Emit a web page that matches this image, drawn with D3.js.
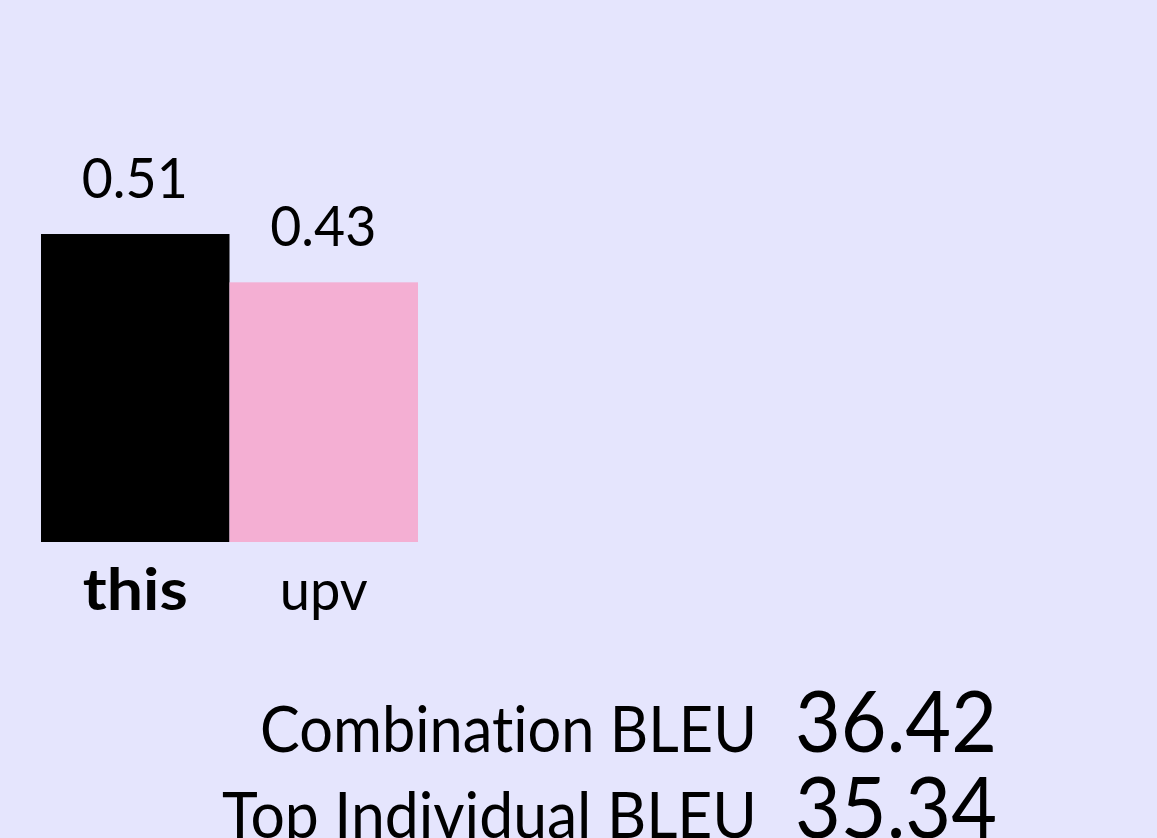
<!DOCTYPE html>
<html><head><meta charset="utf-8">
<script src="https://cdn.jsdelivr.net/npm/d3@7"></script>
<style>html,body{margin:0;padding:0;background:#e5e5fd;overflow:hidden} text{font-variant-ligatures:none;font-feature-settings:"liga" 0}</style>
</head><body>
<svg id="c" width="1157" height="838"></svg>
<script>
const systems = ["this", "upv"];
const scores = [0.51, 0.43];
const scoreLabels = ["0.51", "0.43"];
const barColors = ["#000000", "#f4afd3"];
const summaryNames = ["Combination BLEU", "Top Individual BLEU"];
const summaryValues = ["36.42", "35.34"];

const svg = d3.select("#c");
svg.append("rect").attr("width",1157).attr("height",838).attr("fill","#e5e5fd");
const font = "Lato, 'DejaVu Sans', sans-serif";

const x = d3.scaleBand().domain(systems).range([41, 418]).padding(0);
const y = d3.scaleLinear().domain([0, 0.6]).range([542, 542 - 0.6*603.9]);

const g = svg.append("g");
g.selectAll("rect.bar").data(systems).join("rect")
  .attr("class","bar")
  .attr("x", d => x(d)).attr("width", x.bandwidth())
  .attr("y", (d,i) => y(scores[i])).attr("height", (d,i) => y(0) - y(scores[i]))
  .attr("fill", (d,i) => barColors[i]);

g.selectAll("text.val").data(systems).join("text")
  .attr("class","val")
  .attr("x", d => x(d) + x.bandwidth()/2 - 0.5)
  .attr("y", (d,i) => y(scores[i]) - 36)
  .attr("text-anchor","middle")
  .attr("font-family", font).attr("font-size", 56)
  .attr("textLength", 106).attr("lengthAdjust","spacingAndGlyphs")
  .text((d,i) => scoreLabels[i]);

g.selectAll("text.cat").data(systems).join("text")
  .attr("class","cat")
  .attr("x", d => x(d) + x.bandwidth()/2)
  .attr("y", 610)
  .attr("text-anchor","middle")
  .attr("font-family", font).attr("font-size", 57)
  .attr("font-weight", (d,i) => i === 0 ? "bold" : "normal")
  .attr("textLength", (d,i) => i === 0 ? 105 : 88).attr("lengthAdjust","spacingAndGlyphs")
  .text(d => d);

const rows = [752, 838];
summaryNames.forEach((n,i) => {
  svg.append("text").attr("x", 757).attr("y", rows[i]).attr("text-anchor","end")
    .attr("font-family", font).attr("font-size", 64)
    .attr("textLength", i === 0 ? 497 : 535).attr("lengthAdjust","spacingAndGlyphs")
    .text(n);
  svg.append("text").attr("x", 795).attr("y", rows[i]).attr("text-anchor","start")
    .attr("font-family", font).attr("font-size", 86)
    .attr("textLength", 202).attr("lengthAdjust","spacingAndGlyphs")
    .text(summaryValues[i]);
});
</script>
</body></html>
